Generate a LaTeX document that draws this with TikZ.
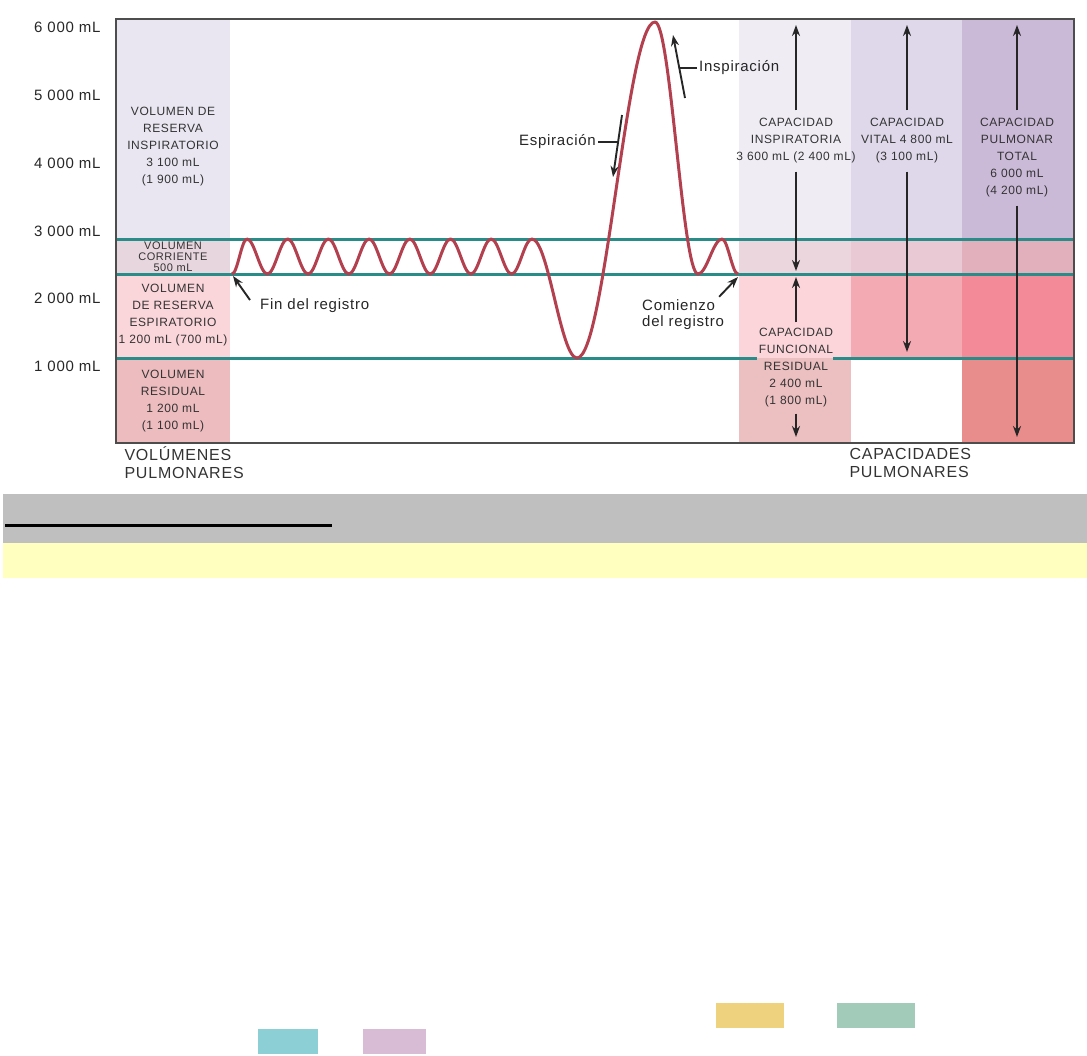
\documentclass[tikz,border=0pt]{standalone}
\usepackage{fontspec}
\setmainfont{Liberation Sans}[LetterSpace=5]
\usetikzlibrary{arrows.meta}

\definecolor{framegray}{HTML}{4D4D4D}
\definecolor{lungteal}{HTML}{2A8C88}
\definecolor{tracered}{HTML}{B3404E}
\definecolor{irvc}{HTML}{E9E6F1}
\definecolor{tvc}{HTML}{E8D6DE}
\definecolor{ervc}{HTML}{FAD5D9}
\definecolor{rvc}{HTML}{EDBCBF}
\definecolor{citop}{HTML}{EFECF4}
\definecolor{citv}{HTML}{EBD6DE}
\definecolor{cierv}{HTML}{FBD5D9}
\definecolor{cirv}{HTML}{ECBFC1}
\definecolor{vctop}{HTML}{DED8EA}
\definecolor{vctv}{HTML}{E9CAD4}
\definecolor{vcerv}{HTML}{F4AAB3}
\definecolor{tlctop}{HTML}{CABAD8}
\definecolor{tlctv}{HTML}{E2B0BC}
\definecolor{tlcerv}{HTML}{F38A98}
\definecolor{tlcrv}{HTML}{E98C8C}
\definecolor{bandgray}{HTML}{BFBFBF}
\definecolor{bandyellow}{HTML}{FFFFBF}
\definecolor{keyyellow}{HTML}{EFD27E}
\definecolor{keygreen}{HTML}{A3CBB9}
\definecolor{keycyan}{HTML}{8CD0D5}
\definecolor{keypurple}{HTML}{D8BCD6}

\tikzset{
    axl/.style={font=\fontsize{15}{18}\selectfont, text=black!85, anchor=east},
    vol/.style={font=\fontsize{12}{17}\selectfont, text=black!80, align=center},
    capl/.style={vol, inner sep=8pt},
    lbl/.style={font=\fontsize{15}{16}\selectfont, text=black!85, inner sep=2pt},
    big/.style={font=\fontsize{16}{18}\selectfont, text=black!80, align=left, anchor=west},
    arr/.style={draw=black!85, line width=1.9pt, -{Stealth[length=11pt,width=8pt]}},
    level/.style={draw=lungteal, line width=3pt},
    breath/.style={draw=tracered, line width=3pt, line join=round}
}

\begin{document}
\begin{tikzpicture}[x=1pt, y=-1pt]
            \useasboundingbox (0,0) rectangle (1087,1055);

            % volumes column
            \fill[irvc] (116,19) rectangle (230,239);
            \fill[tvc] (116,239) rectangle (230,274);
            \fill[ervc] (116,274) rectangle (230,358);
            \fill[rvc] (116,358) rectangle (230,443);

            % capacities columns
            \fill[citop] (739,19) rectangle (851,239);
            \fill[citv] (739,239) rectangle (851,274);
            \fill[cierv] (739,274) rectangle (851,358);
            \fill[cirv] (739,358) rectangle (851,443);
            \fill[vctop] (851,19) rectangle (962,239);
            \fill[vctv] (851,239) rectangle (962,274);
            \fill[vcerv] (851,274) rectangle (962,358);
            \fill[tlctop] (962,19) rectangle (1074,239);
            \fill[tlctv] (962,239) rectangle (1074,274);
            \fill[tlcerv] (962,274) rectangle (1074,358);
            \fill[tlcrv] (962,358) rectangle (1074,443);

            \draw[level] (116,239) -- (1074,239);
            \draw[level] (116,274) -- (1074,274);
            \draw[level] (116,358) -- (757,358);
            \draw[level] (833,358) -- (1074,358);

            \draw[framegray, line width=1.8pt] (116,19) rectangle (1074,443);

            % spirogram
            \draw[breath] (232,274) cos (239.5,256.5) sin (247,239)
                \foreach \k in {0,...,6} {
                    cos ({257.2+40.7*\k},256.5) sin ({267.4+40.7*\k},274)
                    cos ({277.5+40.7*\k},256.5) sin ({287.7+40.7*\k},239)
                }
                cos (554.5,298.5) sin (577,358) cos (616,190) sin (655,22)
                cos (676.5,148) sin (698,274) cos (710,256.5) sin (722,239)
                cos (730,256.5) sin (738,274);

            % axis
            \node at (104,27) [axl] (l6) {6 000 mL};
            \node at (104,95) [axl] (l5) {5 000 mL};
            \node at (104,163) [axl] (l4) {4 000 mL};
            \node at (104,231) [axl] (l3) {3 000 mL};
            \node at (104,298) [axl] (l2) {2 000 mL};
            \node at (104,366) [axl] (l1) {1 000 mL};

            \node at (173,147) [vol] (irv) {VOLUMEN DE\\RESERVA\\INSPIRATORIO\\3 100 mL\\(1 900 mL)};
            \node at (173,257) [vol, font=\fontsize{11}{11}\selectfont, inner sep=0pt] (tv) {VOLUMEN\\CORRIENTE\\500 mL};
            \node at (173,315) [vol] (erv) {VOLUMEN\\DE RESERVA\\ESPIRATORIO\\1 200 mL (700 mL)};
            \node at (173,401) [vol] (rv) {VOLUMEN\\RESIDUAL\\1 200 mL\\(1 100 mL)};

            \node at (796,141) [capl] (ci) {CAPACIDAD\\INSPIRATORIA\\3 600 mL (2 400 mL)};
            \node at (796,368) [capl, inner sep=6pt] (frc) {CAPACIDAD\\FUNCIONAL\\RESIDUAL\\2 400 mL\\(1 800 mL)};
            \node at (907,141) [capl] (vc) {CAPACIDAD\\VITAL 4 800 mL\\(3 100 mL)};
            \node at (1017,158) [capl] (tlc) {CAPACIDAD\\PULMONAR\\TOTAL\\6 000 mL\\(4 200 mL)};

            \coordinate (cit) at (796,25);
            \coordinate (cib) at (796,271);
            \coordinate (frct) at (796,277);
            \coordinate (frcb) at (796,437);
            \coordinate (vct) at (907,25);
            \coordinate (vcb) at (907,352);
            \coordinate (tlct) at (1017,25);
            \coordinate (tlcb) at (1017,437);

            \draw[arr] (ci) -- (cit);
            \draw[arr] (ci) -- (cib);
            \draw[arr] (frc) -- (frct);
            \draw[arr] (frc) -- (frcb);
            \draw[arr] (vc) -- (vct);
            \draw[arr] (vc) -- (vcb);
            \draw[arr] (tlc) -- (tlct);
            \draw[arr] (tlc) -- (tlcb);

            % labels on the trace
            \node at (258,306) [lbl, anchor=west] (fin) {Fin del registro};
            \coordinate (fint) at (233,276);
            \draw[arr] ([shift={(-8,-6)}]fin.west) -- (fint);

            \node at (640,315) [lbl, anchor=west, align=left] (com) {Comienzo\\del registro};
            \coordinate (comt) at (738,277);
            \draw[arr] ([shift={(-7,-1)}]com.north east) -- (comt);

            \node at (598,142) [lbl, anchor=east] (esp) {Espiración};
            \coordinate (espa) at (622,115);
            \coordinate (espb) at (613,177);
            \coordinate (espt) at (618,142);
            \draw[arr] (espa) -- (espb);
            \draw[black!85, line width=1.4pt] (esp) -- (espt);

            \node at (697,68) [lbl, anchor=west] (insp) {Inspiración};
            \coordinate (inspa) at (685,98);
            \coordinate (inspb) at (673,35);
            \coordinate (inspt) at (679,68);
            \draw[arr] (inspa) -- (inspb);
            \draw[black!85, line width=1.4pt] (insp) -- (inspt);

            \node at (121,463) [big] (vols) {VOLÚMENES\\PULMONARES};
            \node at (846,463) [big] (caps) {CAPACIDADES\\PULMONARES};

            % bands below
            \fill[bandgray] (3,494) rectangle (1087,543);
            \draw[black, line width=3pt] (5,525) -- (332,525);
            \fill[bandyellow] (3,543) rectangle (1087,578);

            \fill[keyyellow] (716,1003) rectangle (784,1028);
            \fill[keygreen] (837,1003) rectangle (915,1028);
            \fill[keycyan] (258,1029) rectangle (318,1054);
            \fill[keypurple] (363,1029) rectangle (426,1054);
\end{tikzpicture}
\end{document}
